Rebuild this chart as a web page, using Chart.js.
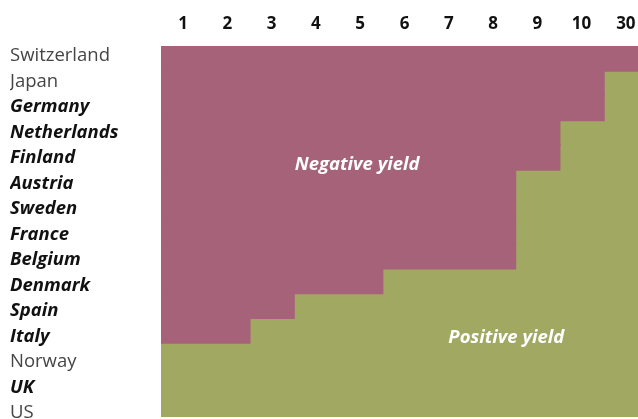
<!DOCTYPE html>
<html>
<head>
<meta charset="utf-8">
<script src="https://cdn.jsdelivr.net/npm/chart.js@4.4.1/dist/chart.umd.min.js"></script>
<style>
  html, body { margin: 0; padding: 0; overflow: hidden; background: #fff; }
</style>
</head>
<body>
<canvas id="yields" width="648" height="419"></canvas>
<script>
var countries = ['Switzerland', 'Japan', 'Germany', 'Netherlands', 'Finland', 'Austria', 'Sweden',
    'France', 'Belgium', 'Denmark', 'Spain', 'Italy', 'Norway', 'UK', 'US'];
var euMember = [false, false, true, true, true, true, true, true, true, true, true, true, false, true, false];
var maturities = ['1', '2', '3', '4', '5', '6', '7', '8', '9', '10', '30'];
// how many maturities (from the short end) trade with negative / positive yield
var negativeCount = [11, 10, 10, 9, 9, 8, 8, 8, 8, 5, 3, 2, 0, 0, 0];
var positiveCount = [0, 1, 1, 2, 2, 3, 3, 3, 3, 6, 8, 9, 11, 11, 11];

var FONT = "'Open Sans', sans-serif";
var NEG = '#a66278';
var POS = '#a1a862';

// white labels written inside the two areas
var areaLabels = {
    id: 'areaLabels',
    afterDatasetsDraw: function(chart) {
        var c = chart.ctx;
        var x = chart.scales.x, y = chart.scales.y;
        c.save();
        c.fillStyle = '#fff';
        c.font = 'italic bold 18.5px ' + FONT;
        c.textAlign = 'center';
        c.textBaseline = 'middle';
        c.fillText('Negative yield', x.getPixelForValue(4.43), y.getPixelForValue(4.31));
        c.fillText('Positive yield', x.getPixelForValue(7.8), y.getPixelForValue(11.31));
        c.restore();
    }
};

function noPadding(s) {
    s.paddingTop = 0;
    s.paddingBottom = 0;
    s.paddingLeft = 0;
    s.paddingRight = 0;
}

// zero-length bars would still show up as a thin sliver once inflated
function hideZero(color) {
    return function(c) { return c.raw === 0 ? 'rgba(0,0,0,0)' : color; };
}

var ctx = document.getElementById('yields').getContext('2d');
var myChart = new Chart(ctx, {
    type: 'bar',
    data: {
        labels: countries,
        datasets: [{
                label: 'Negative yield',
                data: negativeCount,
                backgroundColor: hideZero(NEG)
            },
            {
                label: 'Positive yield',
                data: positiveCount,
                backgroundColor: hideZero(POS)
            }
        ]
    },
    options: {
        responsive: false,
        animation: false,
        indexAxis: 'y',
        barPercentage: 1,
        categoryPercentage: 1,
        elements: { bar: { borderWidth: 0, inflateAmount: 1 } },
        layout: { autoPadding: false, padding: { left: 10, right: 0, top: 0, bottom: 2 } },
        plugins: {
            legend: { display: false },
            tooltip: { enabled: false }
        },
        scales: {
            x: {
                type: 'linear',
                stacked: true,
                min: 0,
                max: maturities.length,
                display: false
            },
            xTop: {
                type: 'category',
                labels: maturities,
                position: 'top',
                offset: true,
                grid: { display: false, drawTicks: false },
                border: { display: false },
                ticks: {
                    color: '#111',
                    padding: 12,
                    font: { family: FONT, size: 17, weight: 'bold' }
                },
                afterFit: function(s) { s.height = 46; noPadding(s); }
            },
            y: {
                type: 'category',
                stacked: true,
                display: false
            },
            // country names sit on their own slightly taller spacing than the rows
            yLabels: {
                type: 'linear',
                position: 'left',
                reverse: true,
                offset: false,
                bounds: 'data',
                min: -0.39,
                max: 14.16,
                grid: { display: false, drawTicks: false },
                border: { display: false },
                afterBuildTicks: function(s) {
                    s.ticks = countries.map(function(c, i) { return { value: i }; });
                    s.min = -0.39;
                    s.max = 14.16;
                },
                ticks: {
                    crossAlign: 'far',
                    autoSkip: false,
                    callback: function(v) { return countries[v]; },
                    color: function(c) { return euMember[c.index] ? '#111' : '#454545'; },
                    font: function(c) {
                        return euMember[c.index]
                            ? { family: FONT, size: 18.5, weight: 'bold', style: 'italic' }
                            : { family: FONT, size: 18.5, weight: 'normal' };
                    }
                },
                afterFit: function(s) { s.width = 151; noPadding(s); }
            }
        }
    },
    plugins: [areaLabels]
});
</script>
</body>
</html>
